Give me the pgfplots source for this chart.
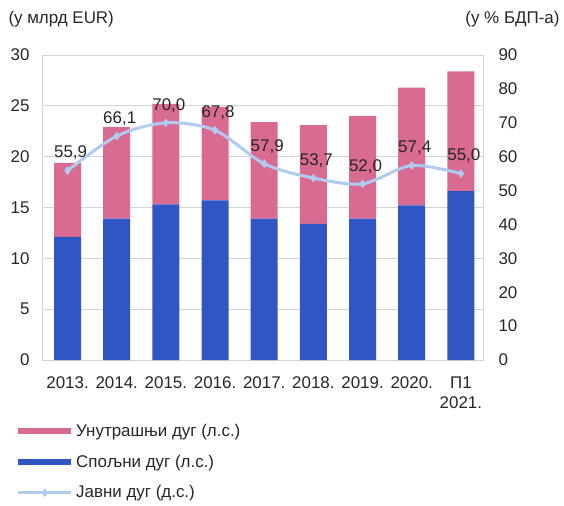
\documentclass[border=0pt]{standalone}
\usepackage{pgfplots}
\pgfplotsset{compat=1.18}
\usepackage{pgfplotstable}
\usepackage{fontspec}
\setmainfont{Liberation Sans}
\definecolor{pinkc}{HTML}{D96B92}
\definecolor{bluec}{HTML}{2F56C2}
\definecolor{linec}{HTML}{AFCBEE}
\definecolor{gridc}{HTML}{D4D4D4}
\pgfplotstableread{
x ext int
0 12.1 7.3
1 13.9 9.0
2 15.3 9.9
3 15.7 9.2
4 13.9 9.5
5 13.4 9.7
6 13.9 10.1
7 15.2 11.6
8 16.6 11.8
}\debt
\pgfplotstableread{
x pub lab
0 55.9 55,9
1 66.1 66,1
2 70.0 70,0
3 67.8 67,8
4 57.9 57,9
5 53.7 53,7
6 52.0 52,0
7 57.4 57,4
8 55.0 55,0
}\pub
\begin{document}
\begin{tikzpicture}
\useasboundingbox (-42bp,-146bp) rectangle (522bp,360bp);
\pgfplotsset{
 every axis/.append style={
  width=441bp, height=305bp, scale only axis, at={(0,0)}, anchor=south west,
  xmin=-0.52, xmax=8.45,
  font=\fontsize{17}{20}\selectfont,
  /pgf/number format/assume math mode=true,
  axis line style={gridc, line width=0.8bp},
  tick style={draw=none},
 }
}
\begin{axis}[
 ybar stacked, bar width=27bp,
 ymin=0, ymax=30, ytick={0,5,...,30},
 ymajorgrids, grid style={gridc, line width=0.8bp},
 xtick={0,...,8},
 xticklabels={2013.,2014.,2015.,2016.,2017.,2018.,2019.,2020.,{П1\\2021.}},
 xticklabel style={align=center, anchor=north, yshift=-13bp, text=black!85},
 yticklabel style={xshift=-9bp, text=black!85},
]
\addplot[fill=bluec, draw=none] table[x=x, y=ext] {\debt};
\addplot[fill=pinkc, draw=none] table[x=x, y=int] {\debt};
\end{axis}
\begin{axis}[
 ymin=0, ymax=90, ytick={0,10,...,90},
 axis x line=none, axis y line*=right,
 yticklabel style={xshift=12bp, text=black!85},
 legend style={at={(axis description cs:0,0)}, anchor=north west,
   xshift=-27bp, yshift=-62bp, draw=none, fill=none, inner sep=0pt,
   row sep=13bp, font=\fontsize{17}{20}\selectfont, text=black!85},
 legend cell align=left,
 legend image code/.code={\draw[mark repeat=2, mark phase=2, #1] plot coordinates {(0bp,0bp) (26.5bp,0bp) (53bp,0bp)};},
]
\addlegendimage{line width=6bp, pinkc, no markers}
\addlegendentry{Унутрашњи дуг (л.с.)}
\addlegendimage{line width=6bp, bluec, no markers}
\addlegendentry{Спољни дуг (л.с.)}
\addplot[linec, line width=3bp, smooth, mark=diamond*, mark size=4bp,
  mark options={fill=linec, draw=linec, line width=0.5bp},
  nodes near coords, point meta=explicit symbolic,
  every node near coord/.append style={anchor=south, xshift=3bp, yshift=7bp, text=black!85, font=\fontsize{17}{20}\selectfont}]
  table[x=x, y=pub, meta=lab] {\pub};
\addlegendentry{Јавни дуг (д.с.)}
\end{axis}
\node[anchor=west, text=black!85, font=\fontsize{17}{20}\selectfont] at (-37bp,341bp) {(у млрд EUR)};
\node[anchor=east, text=black!85, font=\fontsize{17}{20}\selectfont] at (521bp,341bp) {(у \% БДП-а)};
\end{tikzpicture}
\end{document}
